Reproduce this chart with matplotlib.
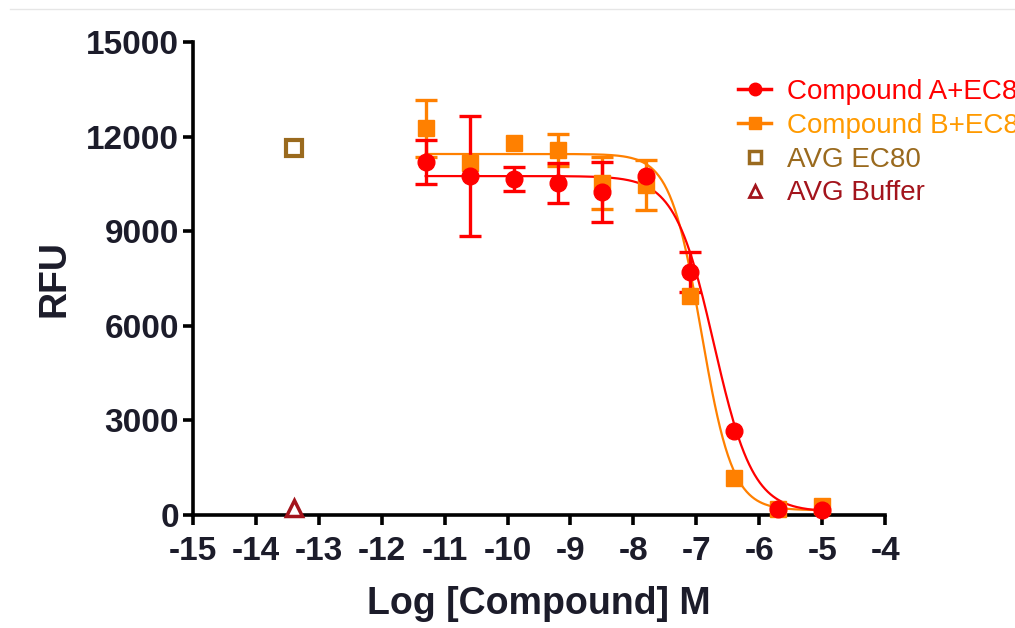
"""
Dose-response chart: RFU vs log concentration
"""
import matplotlib
matplotlib.use("Agg")
import matplotlib.pyplot as plt
from matplotlib.lines import Line2D
import numpy as np

# Datos
log_conc = [-11.3, -10.6, -9.9, -9.2, -8.5, -7.8, -7.1, -6.4, -5.7, -5.0]

rfu_a = [11200, 10750, 10650, 10530, 10240, 10750, 7700, 2650, 200, 150]
err_a = [700, 1900, 380, 650, 950, 0, 640, 0, 0, 0]

rfu_b = [12270, 11160, 11800, 11580, 10530, 10460, 6950, 1170, 200, 280]
err_b = [900, 0, 0, 500, 830, 800, 0, 0, 0, 0]

# parámetros del ajuste (top, bottom, logIC50, hill)
fit_a = [10750, 100, -6.72, 1.4]
fit_b = [11450, 150, -6.92, 1.75]

ec80_x, ec80_y = [-13.4], [11650]
buffer_x, buffer_y = [-13.4], [230]

x_ticks = list(range(-15, -3))
y_ticks = [0, 3000, 6000, 9000, 12000, 15000]

red = "#FF0000"
orange = "#FF8000"
orange_txt = "#FF9A00"
brown = "#9A6A1E"
dark_red = "#A3141C"
ink = "#1c1c2a"

plt.rcParams["font.family"] = ["Liberation Sans", "DejaVu Sans"]


def curva(x, top, bottom, logc, hill):
    return bottom + (top - bottom) / (1 + 10 ** ((x - logc) * hill))


fig = plt.figure(figsize=(10.15, 6.28), dpi=100)
ax = fig.add_axes([0.190, 0.180, 0.682, 0.753])

xs = np.linspace(log_conc[0], log_conc[-1], 300)
x = np.array(log_conc)

for vals, errs, fit, col, mk in [(rfu_b, err_b, fit_b, orange, "s"),
                                 (rfu_a, err_a, fit_a, red, "o")]:
    vals = np.array(vals)
    errs = np.array(errs)
    ax.plot(xs, curva(xs, *fit), color=col, lw=1.6, zorder=2)
    m = errs > 0
    ax.errorbar(x[m], vals[m], yerr=errs[m], fmt="none", ecolor=col,
                elinewidth=2.4, capsize=8, capthick=2.4, zorder=3, clip_on=False)
    ax.plot(x, vals, mk, color=col, ms=12 if mk == "o" else 11.5,
            mec=col, zorder=4, clip_on=False)

ax.plot(ec80_x, ec80_y, "s", ms=12, mfc="white", mec=brown, mew=3, zorder=4)
ax.plot(buffer_x, buffer_y, "^", ms=11, mfc="white", mec=dark_red, mew=2.5,
        zorder=4, clip_on=False)

ax.set_xlim(-15, -4)
ax.set_ylim(0, 15000)
ax.set_xticks(x_ticks)
ax.set_yticks(y_ticks)
ax.set_xticklabels([str(t) for t in x_ticks])
ax.set_yticklabels([str(t) for t in y_ticks])

for s in ["top", "right"]:
    ax.spines[s].set_visible(False)
for s in ["left", "bottom"]:
    ax.spines[s].set_linewidth(2.6)
    ax.spines[s].set_color("black")
ax.tick_params(axis="both", direction="out", length=7, width=2.6,
               labelsize=24, labelcolor=ink, pad=3)
ax.tick_params(axis="x", pad=8)
for lab in ax.get_xticklabels() + ax.get_yticklabels():
    lab.set_fontweight("bold")

ax.set_xlabel("Log [Compound] M", fontsize=27, fontweight="bold",
              color=ink, labelpad=14)
ax.set_ylabel("RFU", fontsize=27, fontweight="bold", color=ink, labelpad=10)

handles = [
    Line2D([], [], color=red, lw=2.5, marker="o", ms=9),
    Line2D([], [], color=orange, lw=2.5, marker="s", ms=8),
    Line2D([], [], ls="none", marker="s", ms=9, mfc="white", mec=brown, mew=2.5),
    Line2D([], [], ls="none", marker="^", ms=8, mfc="white", mec=dark_red, mew=2),
]
# el texto de la leyenda queda cortado en el borde derecho, como en el original
labels = ["Compound A+EC80", "Compound B+EC80", "AVG EC80", "AVG Buffer"]
ax.legend(handles, labels, loc="upper left", bbox_to_anchor=(0.727, 0.874),
          bbox_transform=fig.transFigure, frameon=False, fontsize=20,
          handlelength=1.2, handletextpad=0.55, labelspacing=0.28,
          borderpad=0, borderaxespad=0,
          labelcolor=[red, orange_txt, brown, dark_red])

fig.add_artist(Line2D([0.01, 1.0], [0.986, 0.986], color="#e6e6e6", lw=1))

fig.savefig("out.png", dpi=100)
